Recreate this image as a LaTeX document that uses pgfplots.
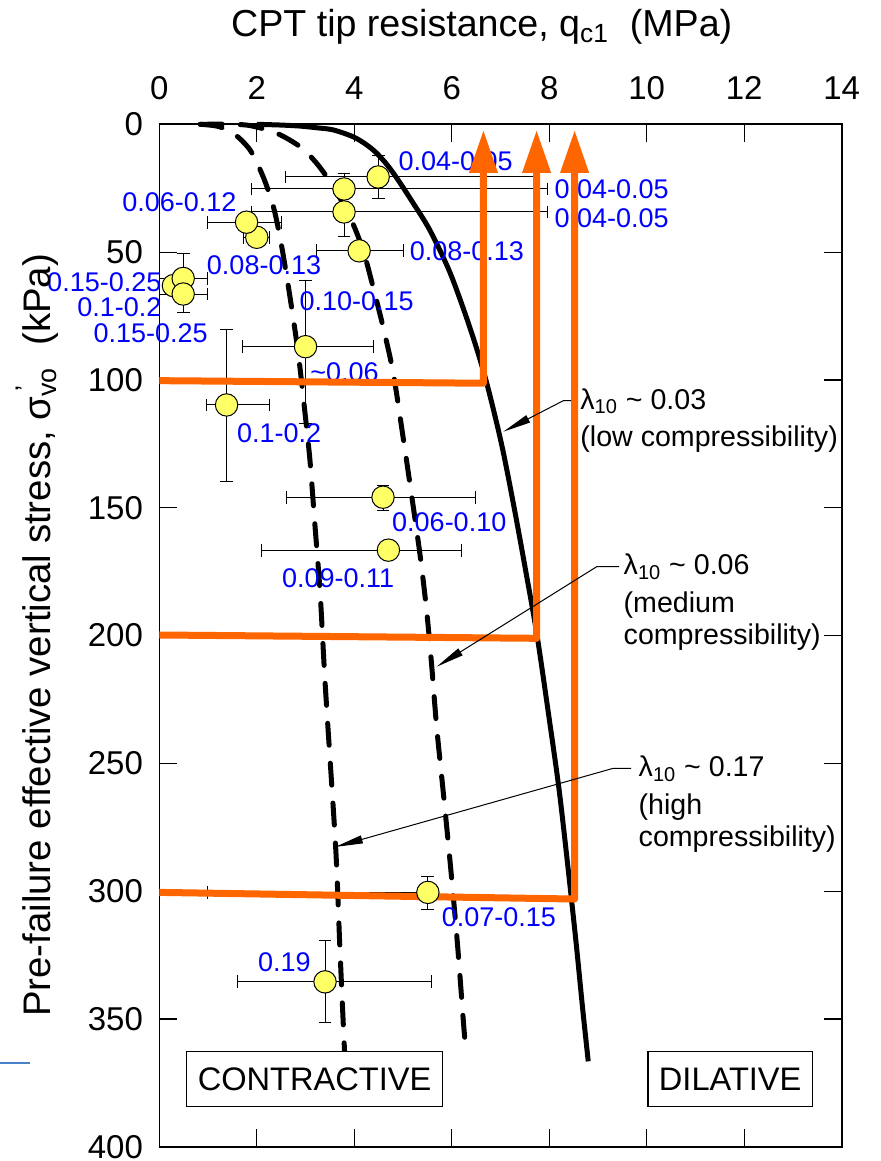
\documentclass[border=0pt]{standalone}
\usepackage{fontspec}
\setmainfont{Liberation Sans}
\usepackage{pgfplots}
\usepackage{pgfplotstable}
\pgfplotsset{compat=1.18}
\usetikzlibrary{arrows.meta}
\definecolor{orng}{RGB}{255,102,0}
\definecolor{yel}{RGB}{255,255,102}
\definecolor{lblue}{RGB}{0,0,255}

\pgfplotstableread{
x y xm xp ym yp
0.29 63.1 0 0 0 0
2.00 44.2 0.27 0.27 0 0
4.49 20.6 1.90 3.26 8.2 8.6
3.79 34.3 1.89 4.18 9.7 9.7
3.79 25.3 1.89 4.18 5.9 5.9
1.79 38.3 0.80 0.71 0 0
4.10 49.5 0.87 0.91 0 0
0.49 60.3 0.49 0.49 9.8 0
0.49 66.4 0.49 0.49 0 7.2
3.00 87.0 1.29 1.40 26 30
1.38 109.8 0.41 0.89 29.7 30.0
4.59 145.9 1.99 1.90 4.4 5.0
4.70 166.6 2.60 1.50 0 0
5.51 300.5 4.52 0.2 6.4 6.5
3.40 335.5 1.80 2.18 16.1 15.9
}\pts

\begin{document}
\begin{tikzpicture}
\path[use as bounding box] (0,0) rectangle (440pt,580.5pt);
\begin{axis}[
  at={(79.65pt,7.15pt)}, anchor=south west,
  scale only axis, width=341.2pt, height=511.2pt,
  xmin=0, xmax=14, ymin=0, ymax=400, y dir=reverse,
  xtick={0,2,...,14}, ytick={0,50,...,400},
  xticklabel pos=top,
  tick align=inside, major tick length=8.75pt,
  tick style={line width=0.6pt, black},
  axis line style={line width=0.8pt},
  /pgf/number format/assume math mode=true,
  xticklabel style={font=\fontsize{16.5}{19}\selectfont, anchor=base, yshift=12.15pt, inner sep=0pt},
  yticklabel style={font=\fontsize{16.5}{19}\selectfont, anchor=east, inner sep=0pt, xshift=-8pt},
  clip=false,
]
% error bars (invisible marks)
\addplot[only marks, mark=*, mark options={draw=none, fill=none},
  error bars/.cd, x dir=both, x explicit, y dir=both, y explicit,
  error bar style={line width=0.5pt, black, solid},
  error mark options={rotate=90, draw=black, fill=none, mark size=3.2pt, line width=0.5pt}]
  table[x=x, y=y, x error plus=xp, x error minus=xm, y error plus=yp, y error minus=ym] {\pts};
% solid curve
\addplot[black, line width=2.5pt, smooth] coordinates {
(2.0,0) (2.5,0.3) (2.89,0.7) (3.25,1.4) (3.57,2.2) (3.98,4.9) (4.25,8) (4.46,11.3) (4.68,16) (4.90,21.8) (5.18,30) (5.55,41.4) (5.97,58.3) (6.38,80) (6.70,100) (7.02,125) (7.28,150) (7.52,175) (7.75,200) (7.98,230) (8.20,260) (8.38,290) (8.55,320) (8.68,345) (8.80,366.6)};
% dashed curve 1
\addplot[black, line width=2.5pt, smooth, line cap=round, dash pattern=on 11pt off 9pt] coordinates {
(0.84,0) (1.20,0.8) (1.52,3.5) (1.86,10.0) (2.13,20.5) (2.34,32.2) (2.50,46.6) (2.68,67.4) (2.85,89.6) (2.99,113.1) (3.09,131.3) (3.19,156.1) (3.30,183.5) (3.39,214.8) (3.46,236) (3.62,283.5) (3.70,320) (3.76,346) (3.80,362.5)};
% dashed curve 2
\addplot[black, line width=2.5pt, smooth, line cap=round, dash pattern=on 11pt off 9pt] coordinates {
(0.84,0) (1.40,0) (1.86,0.5) (2.41,3.5) (2.89,8.8) (3.23,15.3) (3.57,24.4) (3.91,36.2) (4.18,49.2) (4.39,64) (4.59,79.2) (4.80,97.4) (5.01,123.5) (5.21,149.6) (5.36,170) (5.49,191.3) (5.59,212.2) (5.69,235.7) (5.84,264) (5.98,291.4) (6.12,321.4) (6.24,351.4) (6.29,362.7)};
% circles
\addplot[only marks, mark=*, mark size=5.6pt, mark options={fill=yel, draw=black, line width=0.5pt}]
  table[x=x, y=y] {\pts};
% blue labels
\begin{scope}[every node/.style={text=lblue, inner sep=0pt, font=\fontsize{13.5}{16}\selectfont}]
\node[anchor=west] at (axis cs:4.90,14.6) {0.04-0.05};
\node[anchor=west] at (axis cs:8.10,25.4) {0.04-0.05};
\node[anchor=west] at (axis cs:8.10,36.8) {0.04-0.05};
\node[anchor=east] at (axis cs:1.59,30.3) {0.06-0.12};
\node[anchor=west] at (axis cs:0.97,55.0) {0.08-0.13};
\node[anchor=west] at (axis cs:5.13,49.8) {0.08-0.13};
\node[anchor=east] at (axis cs:0.05,61.6) {0.15-0.25};
\node[anchor=east] at (axis cs:0.05,71.4) {0.1-0.2};
\node[anchor=east] at (axis cs:1.0,81.8) {0.15-0.25};
\node[anchor=west] at (axis cs:2.87,69.4) {0.10-0.15};
\node[anchor=west] at (axis cs:3.09,96.8) {\textasciitilde0.06};
\node[anchor=west] at (axis cs:1.59,120.9) {0.1-0.2};
\node[anchor=west] at (axis cs:4.77,155.5) {0.06-0.10};
\node[anchor=west] at (axis cs:2.51,177.6) {0.09-0.11};
\node[anchor=west] at (axis cs:5.79,310.3) {0.07-0.15};
\node[anchor=west] at (axis cs:2.02,327.7) {0.19};
\end{scope}
% orange arrows
\addplot[orng, line width=3.5pt, line join=round, -{Triangle[width=13.5pt,length=21.5pt]}] coordinates {(0,100.3) (6.65,101.3) (6.65,2.2)};
\addplot[orng, line width=3.5pt, line join=round, -{Triangle[width=13.5pt,length=21.5pt]}] coordinates {(0,199.8) (7.74,201.1) (7.74,2.2)};
\addplot[orng, line width=3.5pt, line join=round, -{Triangle[width=13.5pt,length=21.5pt]}] coordinates {(0,300.5) (8.52,303.1) (8.52,2.2)};
\end{axis}
\begin{scope}[shift={(0pt,580.5pt)}, x=0.5pt, y=-0.5pt]
% title and y label
\node[anchor=base, inner sep=0pt, font=\fontsize{18.8}{22}\selectfont] at (481.7,36.7) {CPT tip resistance, q\textsubscript{c1}\ \ (MPa)};
\node[anchor=base, rotate=90, inner sep=0pt, font=\fontsize{19.2}{22}\selectfont] at (50,635.5) {Pre-failure effective vertical stress, σ\rlap{\textsuperscript{\,’}}\textsubscript{vo}\ \ (kPa)};
% annotations
\begin{scope}[every node/.style={anchor=base west, inner sep=0pt, font=\fontsize{14.3}{17}\selectfont}]
\node at (580,409.3) {λ\textsubscript{10} \textasciitilde{} 0.03};
\node at (580,447) {(low compressibility)};
\node at (623.3,575) {λ\textsubscript{10} \textasciitilde{} 0.06};
\node at (623.3,613) {(medium};
\node at (623.3,645) {compressibility)};
\node at (638.3,776.7) {λ\textsubscript{10} \textasciitilde{} 0.17};
\node at (638.3,815) {(high};
\node at (638.3,846.7) {compressibility)};
\end{scope}
\draw[line width=0.5pt, -{Triangle[length=14pt,width=4pt]}] (571,400.7) -- (563.3,400.7) -- (503.3,431.7);
\draw[line width=0.5pt, -{Triangle[length=14pt,width=4pt]}] (619,566.7) -- (596.7,566.7) -- (436.7,666.7);
\draw[line width=0.5pt, -{Triangle[length=14pt,width=4pt]}] (631,768.3) -- (613.3,768.3) -- (335,847);
% boxes
\node[draw, line width=0.6pt, fill=white, inner sep=0pt, minimum width=127.85pt, minimum height=27.5pt, font=\fontsize{16.3}{19}\selectfont] at (314.6,1078.9) {CONTRACTIVE};
\node[draw, line width=0.6pt, fill=white, inner sep=0pt, minimum width=82.15pt, minimum height=27.5pt, font=\fontsize{16.3}{19}\selectfont] at (730.2,1078.9) {DILATIVE};
\draw[color={rgb,255:red,70;green,130;blue,200}, line width=0.6pt] (0,1063) -- (30,1063);
\end{scope}
\end{tikzpicture}
\end{document}
